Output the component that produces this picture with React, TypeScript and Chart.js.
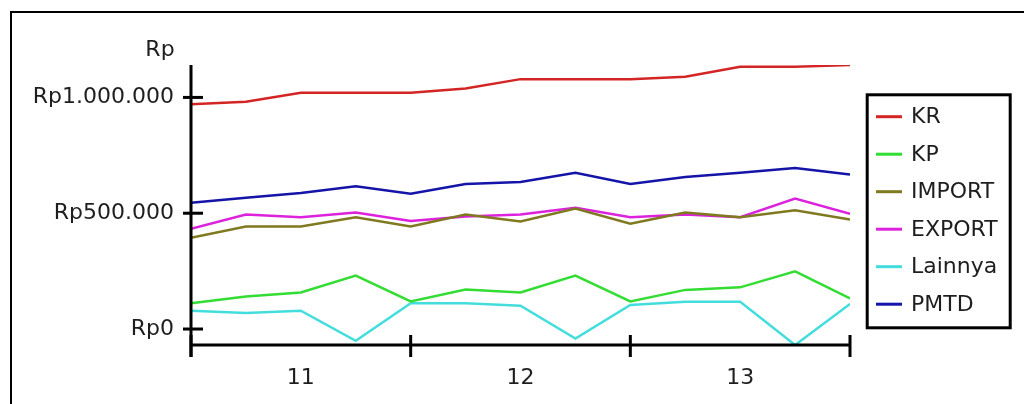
import React, { useEffect, useRef } from "react";
import { Chart, registerables } from "chart.js";

Chart.register(...registerables);

// ---- data ----
const xPoints = [0, 1, 2, 3, 4, 5, 6, 7, 8, 9, 10, 11, 12];
const yearLabels = ["11", "12", "13"];
const yearCenters = [2, 6, 10];
const yearBounds = [0, 4, 8, 12];
const yTickValues = [0, 500000, 1000000];
const yUnit = "Rp";

const seriesNames = ["KR", "KP", "IMPORT", "EXPORT", "Lainnya", "PMTD"];
const seriesColors = ["#d42525", "#33dd33", "#7f7a1f", "#dd22dd", "#44dddd", "#1414a8"];

const krValues = [970000, 981000, 1020000, 1020000, 1020000, 1039000, 1079000, 1079000, 1079000, 1089000, 1132000, 1132000, 1140000];
const kpValues = [111000, 140000, 158000, 231000, 119000, 171000, 158000, 231000, 119000, 169000, 180000, 249000, 132000];
const importValues = [394000, 443000, 443000, 483000, 443000, 494000, 464000, 520000, 455000, 503000, 483000, 513000, 473000];
const exportValues = [433000, 494000, 483000, 503000, 466000, 486000, 494000, 524000, 483000, 494000, 483000, 563000, 497000];
const lainnyaValues = [79000, 69000, 79000, -51000, 111000, 111000, 101000, -41000, 104000, 118000, 118000, -69000, 108000];
const pmtdValues = [545000, 567000, 587000, 616000, 584000, 626000, 635000, 675000, 626000, 656000, 675000, 695000, 667000];

const allSeries = [krValues, kpValues, importValues, exportValues, lainnyaValues, pmtdValues];

const FONT = '"DejaVu Sans", Verdana, sans-serif';
const TEXT = "#1e1e1e";

function fmtRp(v: number): string {
  const s = Math.round(v).toString().replace(/\B(?=(\d{3})+(?!\d))/g, ".");
  return "Rp" + s;
}

const decorPlugin = {
  id: "decor",
  beforeDraw(chart: any) {
    const ctx = chart.ctx;
    ctx.save();
    ctx.fillStyle = "#ffffff";
    ctx.fillRect(0, 0, chart.width, chart.height);
    ctx.fillStyle = "#000000";
    ctx.fillRect(10, 11, chart.width - 10, 2);
    ctx.fillRect(10, 11, 2, chart.height - 11);
    ctx.restore();
  },
  afterDraw(chart: any) {
    const { ctx, chartArea: a, scales } = chart;
    const x = scales.x;
    const y = scales.y;
    ctx.save();
    ctx.fillStyle = "#000000";
    // axis lines
    ctx.fillRect(a.left - 1.5, a.top, 3, a.bottom + 12 - a.top);
    ctx.fillRect(a.left, a.bottom - 1.5, a.right - a.left, 3);
    // x group boundary ticks
    for (const v of yearBounds) {
      const px = x.getPixelForValue(v);
      ctx.fillRect(px - 1.5, a.bottom - 10, 3, 22);
    }
    // y ticks
    for (const v of yTickValues) {
      const py = y.getPixelForValue(v);
      ctx.fillRect(a.left - 8, py - 1.5, 20, 3);
    }
    // unit title
    ctx.fillStyle = TEXT;
    ctx.font = `22px ${FONT}`;
    ctx.textAlign = "center";
    ctx.textBaseline = "alphabetic";
    ctx.fillText(yUnit, 160, 56);

    // legend
    const bx = 867.2, by = 94.8, bw = 143, bh = 233;
    ctx.strokeStyle = "#000000";
    ctx.lineWidth = 3;
    ctx.strokeRect(bx, by, bw, bh);
    ctx.textAlign = "left";
    ctx.textBaseline = "middle";
    chart.data.datasets.forEach((ds: any, i: number) => {
      const cy = 116.7 + i * 37.5;
      ctx.fillStyle = ds.borderColor;
      ctx.fillRect(876, cy - 1.5, 26, 3);
      ctx.fillStyle = TEXT;
      ctx.fillText(ds.label, 911, cy + 1);
    });
    ctx.restore();
  },
};

export default function App() {
  const ref = useRef<HTMLCanvasElement | null>(null);

  useEffect(() => {
    if (!ref.current) return;
    const flat = allSeries.flat();
    const yMin = Math.min(...flat);
    const yMax = Math.max(...flat);
    const chart = new Chart(ref.current, {
      type: "line",
      data: {
        datasets: seriesNames.map((name, i) => ({
          label: name,
          data: allSeries[i].map((v, j) => ({ x: xPoints[j], y: v })),
          borderColor: seriesColors[i],
          backgroundColor: seriesColors[i],
          borderWidth: 2.5,
          pointRadius: 0,
          tension: 0,
          fill: false,
        })),
      },
      options: {
        animation: false,
        responsive: false,
        devicePixelRatio: 1,
        layout: { padding: { left: 0, right: 174, top: 65, bottom: 0 } },
        plugins: { legend: { display: false }, tooltip: { enabled: false }, title: { display: false } },
        scales: {
          x: {
            type: "linear",
            min: xPoints[0],
            max: xPoints[xPoints.length - 1],
            grid: { display: false, drawTicks: false },
            border: { display: false },
            afterBuildTicks: (scale: any) => {
              scale.ticks = yearCenters.map((v) => ({ value: v }));
            },
            afterFit: (scale: any) => {
              scale.height = 59;
            },
            ticks: {
              autoSkip: false,
              maxRotation: 0,
              padding: 20,
              color: TEXT,
              font: { family: FONT, size: 22 },
              callback: (v: any) => {
                const k = yearCenters.indexOf(Number(v));
                return k >= 0 ? yearLabels[k] : "";
              },
            },
          },
          y: {
            type: "linear",
            min: yMin,
            max: yMax,
            grid: { display: false, drawTicks: false },
            border: { display: false },
            afterBuildTicks: (scale: any) => {
              scale.ticks = yTickValues.map((v) => ({ value: v }));
            },
            afterFit: (scale: any) => {
              scale.width = 191;
            },
            ticks: {
              autoSkip: false,
              padding: 17,
              color: TEXT,
              font: { family: FONT, size: 22 },
              callback: (v: any) => fmtRp(Number(v)),
            },
          },
        },
      },
      plugins: [decorPlugin],
    } as any);
    return () => chart.destroy();
  }, []);

  return (
    <div style={{ position: "fixed", left: 0, top: 0, width: 1024, height: 404 }}>
      <canvas ref={ref} width={1024} height={404} style={{ display: "block" }} />
    </div>
  );
}
